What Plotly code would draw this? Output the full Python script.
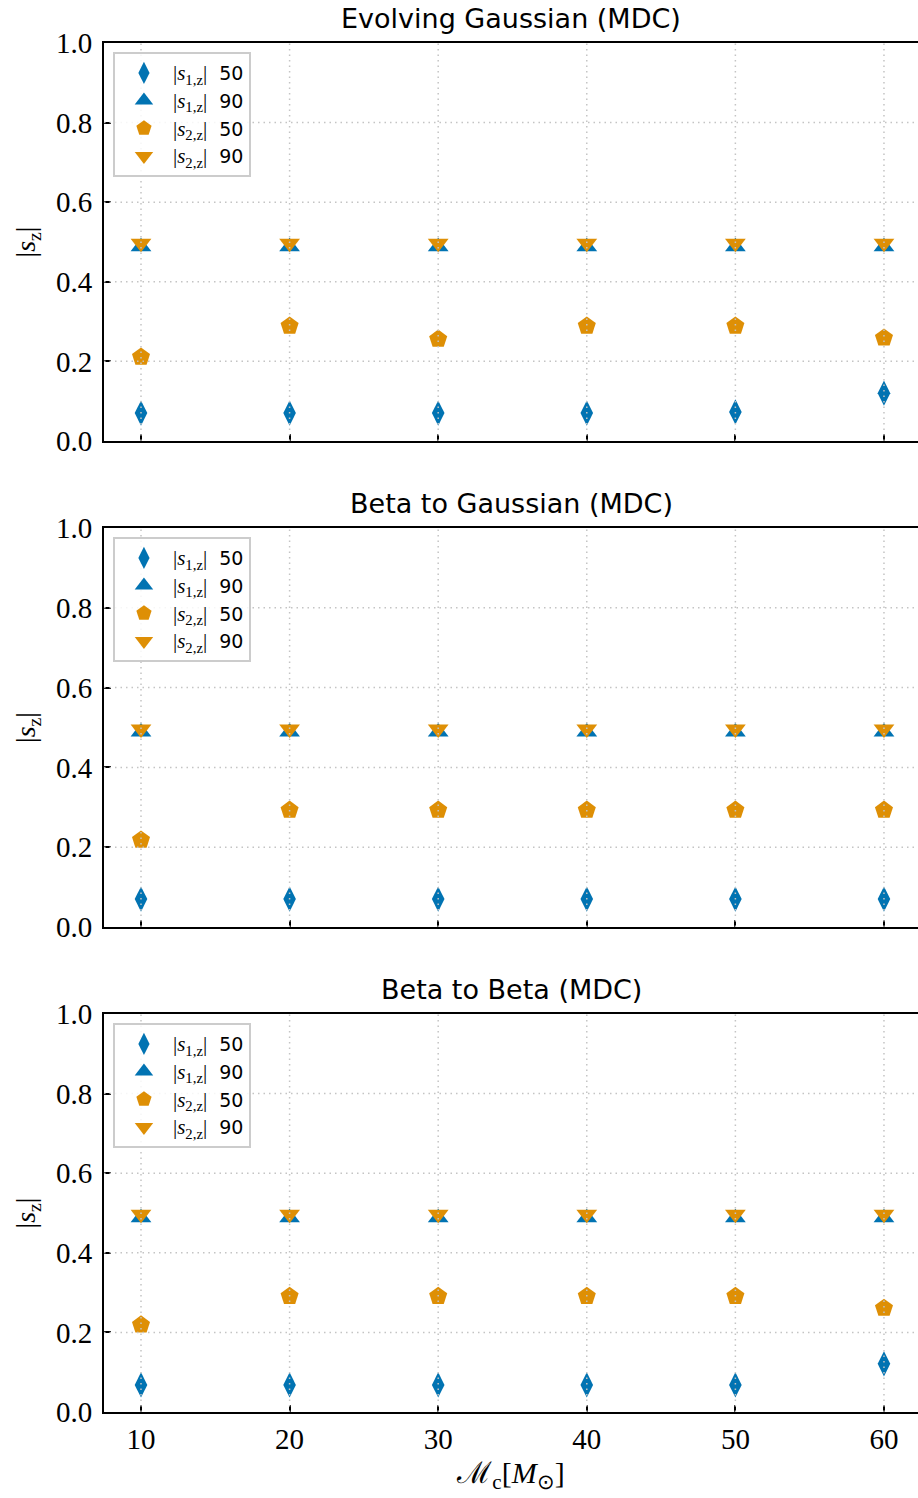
import plotly.graph_objects as go
from plotly.subplots import make_subplots

# Chirp-mass grid (x) and spin-magnitude quantiles per model
chirp_mass = [10, 20, 30, 40, 50, 60]
panel_titles = ["Evolving Gaussian (MDC)", "Beta to Gaussian (MDC)", "Beta to Beta (MDC)"]

s1_50 = [
    [0.070, 0.070, 0.070, 0.070, 0.073, 0.120],
    [0.070, 0.070, 0.070, 0.070, 0.070, 0.070],
    [0.068, 0.068, 0.068, 0.068, 0.068, 0.121],
]
s1_90 = [
    [0.488, 0.488, 0.488, 0.488, 0.488, 0.488],
    [0.489, 0.489, 0.489, 0.489, 0.489, 0.489],
    [0.488, 0.488, 0.488, 0.488, 0.488, 0.488],
]
s2_50 = [
    [0.211, 0.289, 0.256, 0.289, 0.289, 0.259],
    [0.218, 0.293, 0.293, 0.293, 0.293, 0.293],
    [0.219, 0.291, 0.291, 0.291, 0.291, 0.261],
]
s2_90 = [
    [0.497, 0.497, 0.497, 0.497, 0.497, 0.497],
    [0.496, 0.496, 0.496, 0.496, 0.496, 0.496],
    [0.497, 0.497, 0.497, 0.497, 0.497, 0.497],
]

x_ticks = [10, 20, 30, 40, 50, 60]
y_ticks = [0.0, 0.2, 0.4, 0.6, 0.8, 1.0]
x_range = [7.51, 62.29]
y_range = [0.0, 1.0]

BLUE = "#0173B2"
ORANGE = "#DE8F05"
SERIF = "Liberation Serif"
SANS = "DejaVu Sans"
GRID = "#c4c4c4"


def spin_label(idx, q):
    return (f"<span style='font-family:Liberation Serif;font-size:21px'>|<i>s</i>"
            f"<sub>{idx},z</sub>|</span>  {q}")


series = [
    ("s1_50", s1_50, BLUE, "diamond-tall", 18, spin_label(1, 50)),
    ("s1_90", s1_90, BLUE, "triangle-up", 18, spin_label(1, 90)),
    ("s2_50", s2_50, ORANGE, "pentagon", 19, spin_label(2, 50)),
    ("s2_90", s2_90, ORANGE, "triangle-down", 18, spin_label(2, 90)),
]

fig = make_subplots(rows=3, cols=1, shared_xaxes=False, vertical_spacing=0.05)

legend_names = ["legend", "legend2", "legend3"]
for p in range(3):
    for key, data, color, symbol, size, label in series:
        fig.add_trace(
            go.Scatter(
                x=chirp_mass, y=data[p], mode="markers", name=label,
                marker=dict(symbol=symbol, size=size, color=color, line=dict(width=0)),
                legend=legend_names[p], showlegend=True,
            ),
            row=p + 1, col=1,
        )

# Panel geometry (fractions of the plotting area)
y_domains = [[0.7093, 1.0], [0.3543, 0.6457], [0.0, 0.2907]]

axis_common = dict(
    showline=True, linecolor="black", linewidth=2,
    ticks="inside", ticklen=7, tickwidth=2, tickcolor="black",
    showgrid=False, zeroline=False,
)

layout = dict(
    width=918, height=1498,
    margin=dict(l=104, r=0, t=43, b=86),
    paper_bgcolor="white", plot_bgcolor="white",
    font=dict(family=SERIF, color="black", size=29),
    annotations=[], shapes=[],
)

for p in range(3):
    xa = "xaxis" if p == 0 else f"xaxis{p + 1}"
    ya = "yaxis" if p == 0 else f"yaxis{p + 1}"
    layout[xa] = dict(
        axis_common, range=x_range, tickvals=x_ticks, mirror=True,
        showticklabels=(p == 2), tickfont=dict(family=SERIF, size=29, color="black"),
        domain=[0, 1], anchor=f"y{'' if p == 0 else p + 1}",
    )
    layout[ya] = dict(
        axis_common, range=y_range, tickvals=y_ticks, tickformat=".1f",
        tickfont=dict(family=SERIF, size=29, color="black"), domain=y_domains[p],
        anchor=f"x{'' if p == 0 else p + 1}",
        title=dict(text="|<i>s</i><sub>z</sub>|", font=dict(family=SERIF, size=28), standoff=12),
        ticklabelstandoff=4,
    )
    leg = legend_names[p]
    layout[leg] = dict(
        x=0.011, y=y_domains[p][1] - 0.0066, xanchor="left", yanchor="top",
        xref="paper", yref="paper",
        bgcolor="rgba(255,255,255,0.85)", bordercolor="#cccccc", borderwidth=2,
        font=dict(family=SANS, size=19, color="black"),
        itemwidth=48, tracegroupgap=0,
    )
    layout["annotations"].append(dict(
        text=panel_titles[p], x=0.5, y=y_domains[p][1], xref="paper", yref="paper",
        xanchor="center", yanchor="bottom", yshift=7, showarrow=False,
        font=dict(family=SANS, size=27, color="black"),
    ))
    xref = f"x{'' if p == 0 else p + 1}"
    yref = f"y{'' if p == 0 else p + 1}"
    # dotted grid drawn over the markers
    for xv in x_ticks:
        layout["shapes"].append(dict(
            type="line", layer="above", xref=xref, yref=f"{yref} domain",
            x0=xv, x1=xv, y0=0, y1=1, line=dict(color=GRID, width=1.5, dash="1.5px,4px"),
        ))
    for yv in y_ticks:
        if y_range[0] < yv < y_range[1]:
            layout["shapes"].append(dict(
                type="line", layer="above", xref=f"{xref} domain", yref=yref,
                x0=0, x1=1, y0=yv, y1=yv, line=dict(color=GRID, width=1.5, dash="1.5px,4px"),
            ))

layout["xaxis3"]["title"] = dict(
    text="ℳ<sub>c</sub>[<i>M</i><sub>⊙</sub>]", font=dict(family=SERIF, size=30), standoff=8,
)

fig.update_layout(**layout)
fig.write_html("out.html")
